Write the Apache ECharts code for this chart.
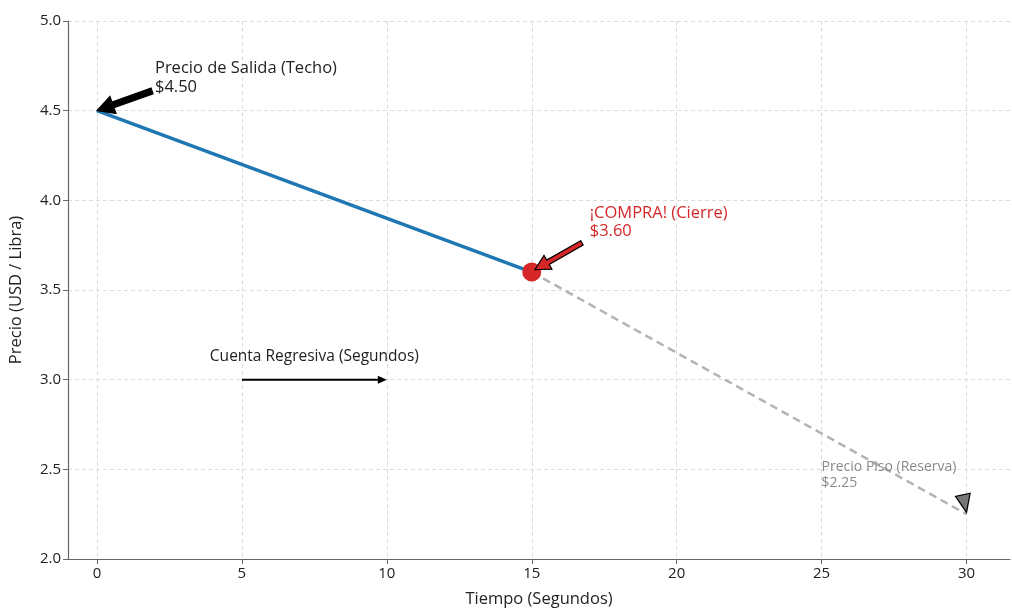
<!DOCTYPE html>
<html><head><meta charset="utf-8">
<script src="https://cdn.jsdelivr.net/npm/echarts@6/dist/echarts.min.js"></script>
<style>html,body{margin:0;padding:0;background:#fff}#c{width:1012px;height:608px}</style>
</head><body><div id="c"></div>
<script>
// ---- data ----
const xTicks = [0, 5, 10, 15, 20, 25, 30];
const yTicks = [2.0, 2.5, 3.0, 3.5, 4.0, 4.5, 5.0];
const soldTime = [0, 15];
const soldPrice = [4.50, 3.60];
const remainTime = [15, 30];
const remainPrice = [3.60, 2.25];
const buyPoint = [15, 3.60];
const labelTexts = [
  ['Precio de Salida (Techo)', '$4.50'],
  ['¡COMPRA! (Cierre)', '$3.60'],
  ['Precio Piso (Reserva)', '$2.25'],
  ['Cuenta Regresiva (Segundos)']
];
const labelAnchors = [[2.0, 4.575], [17.0, 3.775], [25.0, 2.38], [7.5, 3.13]];
const arrowTails = [[1.9, 4.61], [16.73, 3.763], [29.87, 2.36], [5.0, 3.0]];
const arrowTips = [[0, 4.5], [15.11, 3.613], [30.0, 2.26], [10.0, 3.0]];

const FONT = 'Open Sans';
const chart = echarts.init(document.getElementById('c'));
const zip = (a, b) => a.map((v, i) => [v, b[i]]);

chart.setOption({
  animation: false,
  grid: { left: 68, right: 2, top: 21, bottom: 49, outerBoundsMode: 'none', containLabel: false },
  xAxis: {
    type: 'value', min: -1, max: 31.5,
    name: 'Tiempo (Segundos)', nameLocation: 'middle', nameGap: 32,
    nameTextStyle: { fontFamily: FONT, fontSize: 16.5, color: '#222' },
    axisLine: { onZero: false, lineStyle: { color: '#666', width: 1.2 } },
    axisTick: { show: true, length: 5, customValues: xTicks, lineStyle: { color: '#666' } },
    axisLabel: { customValues: xTicks, fontFamily: FONT, fontSize: 15, color: '#222', margin: 7 },
    splitLine: { show: true, lineStyle: { color: '#dcdcdc', type: [4, 3], width: 1 } }
  },
  yAxis: {
    type: 'value', min: 2, max: 5, interval: 0.5,
    name: 'Precio (USD / Libra)', nameLocation: 'middle', nameGap: 43,
    nameTextStyle: { fontFamily: FONT, fontSize: 16.5, color: '#222' },
    axisLine: { show: true, onZero: false, lineStyle: { color: '#666', width: 1.2 } },
    axisTick: { show: true, length: 5, lineStyle: { color: '#666' } },
    axisLabel: { fontFamily: FONT, fontSize: 15, color: '#222', margin: 7, formatter: v => v.toFixed(1) },
    splitLine: { show: true, lineStyle: { color: '#dcdcdc', type: [4, 3], width: 1 } }
  },
  series: [
    { type: 'line', data: zip(remainTime, remainPrice), symbol: 'none', z: 2,
      lineStyle: { color: '#b3b3b3', width: 2.5, type: [8, 5] } },
    { type: 'line', data: zip(soldTime, soldPrice), symbol: 'none', z: 3,
      lineStyle: { color: '#1f77b4', width: 3.5 } },
    { type: 'scatter', data: [buyPoint], symbolSize: 19, z: 5,
      itemStyle: { color: '#d62728', opacity: 1 } }
  ]
});

function arrowPoly(t, h, shaftW, headW, headL) {
  const dx = h[0] - t[0], dy = h[1] - t[1];
  const L = Math.hypot(dx, dy);
  const ux = dx / L, uy = dy / L, px = -uy, py = ux;
  const bx = h[0] - ux * headL, by = h[1] - uy * headL;
  const withShaft = shaftW > 0 && L > headL;
  const pts = [];
  if (withShaft) {
    pts.push([t[0] + px * shaftW / 2, t[1] + py * shaftW / 2]);
    pts.push([bx + px * shaftW / 2, by + py * shaftW / 2]);
  }
  pts.push([bx + px * headW / 2, by + py * headW / 2]);
  pts.push([h[0], h[1]]);
  pts.push([bx - px * headW / 2, by - py * headW / 2]);
  if (withShaft) {
    pts.push([bx - px * shaftW / 2, by - py * shaftW / 2]);
    pts.push([t[0] - px * shaftW / 2, t[1] - py * shaftW / 2]);
  }
  return pts;
}

const labelStyles = [
  { fill: '#222', size: 16.5, lh: 19, align: 'left', va: 'bottom' },
  { fill: '#d62728', size: 16.5, lh: 18, align: 'left', va: 'bottom' },
  { fill: '#8a8a8a', size: 14, lh: 16, align: 'left', va: 'bottom' },
  { fill: '#222', size: 15.5, lh: 18, align: 'center', va: 'middle' }
];
const arrowStyles = [
  { fill: '#000', stroke: '#000', shaft: 6, headW: 18, headL: 17 },
  { fill: '#d62728', stroke: '#000', shaft: 5, headW: 16, headL: 15 },
  { fill: '#777', stroke: '#000', shaft: 0, headW: 15, headL: 18 },
  { fill: '#000', stroke: '#000', shaft: 2, headW: 8, headL: 9 }
];

const elements = [];
labelTexts.forEach((lines, i) => {
  const p = chart.convertToPixel({ gridIndex: 0 }, labelAnchors[i]);
  const s = labelStyles[i];
  elements.push({
    type: 'text', x: p[0], y: p[1], z: 10,
    style: { text: lines.join('\n'), fill: s.fill, fontFamily: FONT, fontSize: s.size,
      lineHeight: s.lh, align: s.align, verticalAlign: s.va }
  });
});
arrowTails.forEach((tail, i) => {
  const t = chart.convertToPixel({ gridIndex: 0 }, tail);
  const h = chart.convertToPixel({ gridIndex: 0 }, arrowTips[i]);
  const s = arrowStyles[i];
  elements.push({
    type: 'polygon', z: 9,
    shape: { points: arrowPoly(t, h, s.shaft, s.headW, s.headL) },
    style: { fill: s.fill, stroke: s.stroke, lineWidth: i === 3 ? 0 : 1.2, lineJoin: 'miter' }
  });
});
chart.setOption({ graphic: { elements } });
</script></body></html>
